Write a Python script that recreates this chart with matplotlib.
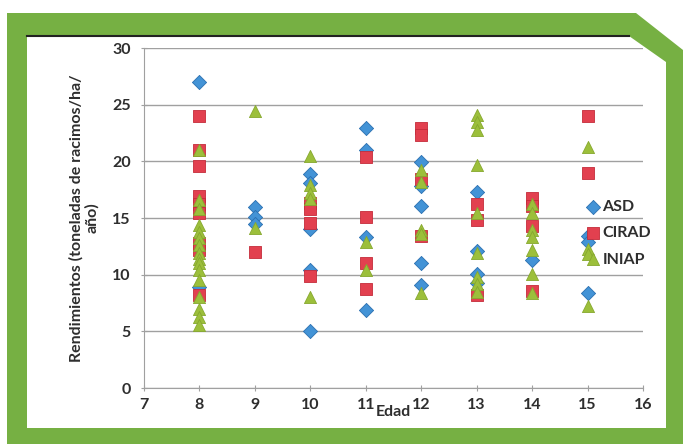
import matplotlib.pyplot as plt
from matplotlib.patches import Polygon

# edad (anos) y rendimiento (t racimos/ha/ano) por fuente
asd_edad = [8, 8, 9, 9, 9, 10, 10, 10, 10, 10, 11, 11, 11, 11,
            12, 12, 12, 12, 12, 13, 13, 13, 13, 14, 15, 15, 15]
asd_rend = [27.0, 8.9, 16.0, 15.1, 14.5, 18.9, 18.1, 14.0, 10.4, 5.0,
            22.9, 21.0, 13.3, 6.9, 19.9, 17.8, 16.1, 11.0, 9.1,
            17.3, 12.1, 10.1, 9.3, 11.3, 13.4, 12.9, 8.4]

cirad_edad = [8, 8, 8, 8, 8, 8, 8, 8, 8, 9, 10, 10, 10, 10,
              11, 11, 11, 11, 12, 12, 12, 12, 13, 13, 13,
              14, 14, 14, 14, 15, 15]
cirad_rend = [24.0, 21.0, 19.6, 16.9, 16.2, 15.4, 12.8, 12.2, 8.2, 12.0,
              16.3, 15.8, 14.6, 9.9, 20.4, 15.1, 11.0, 8.7,
              22.9, 22.3, 18.4, 13.4, 16.2, 14.8, 8.2,
              16.8, 16.1, 14.3, 8.6, 24.0, 19.0]

iniap_edad = [8] * 16 + [9, 9, 10, 10, 10, 10, 10, 11, 11,
              12, 12, 12, 12, 12, 13, 13, 13, 13, 13, 13, 13, 13, 13,
              14, 14, 14, 14, 14, 14, 14, 15, 15, 15, 15]
iniap_rend = [21.0, 16.6, 15.8, 14.4, 13.8, 13.2, 12.6, 11.9, 11.4, 11.0,
              10.4, 9.5, 8.0, 7.0, 6.3, 5.6,
              24.4, 14.1, 20.5, 17.9, 17.2, 16.7, 8.0, 12.9, 10.4,
              19.2, 18.2, 13.9, 13.6, 8.4,
              24.1, 23.5, 22.8, 19.7, 15.4, 11.9, 9.8, 9.2, 8.5,
              16.2, 15.4, 13.9, 13.3, 12.2, 10.1, 8.4,
              21.3, 12.3, 11.8, 7.2]

W, H = 683, 444
fig = plt.figure(figsize=(W / 100, H / 100), dpi=100)


def fpts(pts):
    return [(x / W, 1 - y / H) for x, y in pts]


# marco verde con esquina cortada
verde = '#76b043'
fig.patches.append(Polygon(fpts([(7, 13), (636, 13), (683, 50), (683, 444), (7, 444)]),
                           closed=True, facecolor=verde, edgecolor='none',
                           transform=fig.transFigure, zorder=0))
fig.patches.append(Polygon(fpts([(27, 36), (629, 36), (666, 62), (666, 428), (27, 428)]),
                           closed=True, facecolor='white', edgecolor='none',
                           transform=fig.transFigure, zorder=1))
fig.lines.append(plt.Line2D([27 / W, 629 / W], [1 - 36 / H, 1 - 36 / H], color='#222222',
                            lw=1.5, transform=fig.transFigure, zorder=2))

ax = fig.add_axes([144 / W, 1 - 388 / H, 499 / W, 340 / H])
ax.set_zorder(5)
ax.set_facecolor('none')

ax.scatter(asd_edad, asd_rend, marker='D', s=52, color='#4393d6',
           edgecolor='#2a6fb0', linewidth=0.6, label='ASD', zorder=3)
ax.scatter(cirad_edad, cirad_rend, marker='s', s=74, color='#e2404f',
           edgecolor='#c42c3a', linewidth=0.6, label='CIRAD', zorder=4)
ax.scatter(iniap_edad, iniap_rend, marker='^', s=76, color='#9cbf3b',
           edgecolor='#86a82e', linewidth=0.6, label='INIAP', zorder=5)

ax.set_xlim(7, 16)
ax.set_ylim(0, 30)
ax.set_xticks(range(7, 17))
ax.set_yticks(range(0, 31, 5))
ax.grid(axis='y', color='#a0a0a0', lw=1)
ax.set_axisbelow(True)
for s in ['top', 'right']:
    ax.spines[s].set_visible(False)
for s in ['left', 'bottom']:
    ax.spines[s].set_color('#a0a0a0')
ax.tick_params(colors='#a0a0a0', direction='inout', length=5, labelcolor='#2e2e2e',
               labelsize=11.5)
for lab in ax.get_xticklabels() + ax.get_yticklabels():
    lab.set_fontfamily('Lato')
    lab.set_fontweight('bold')
ax.tick_params(axis='x', pad=5)
ax.tick_params(axis='y', pad=7)

ax.set_xlabel('Edad', fontfamily='Lato', fontweight='bold', fontsize=11.5, color='#2e2e2e')
ax.xaxis.set_label_coords(0.5, -0.05)
ax.set_ylabel('Rendimientos (toneladas de racimos/ha/\naño)', fontfamily='Lato',
              fontweight='bold', fontsize=11.5, color='#2e2e2e', linespacing=1.05)
ax.yaxis.set_label_coords(-0.09, 0.5)

leg = ax.legend(loc='center left', bbox_to_anchor=(0.855, 0.455), frameon=False,
                handletextpad=0.1, labelspacing=0.75, handlelength=1.0,
                prop={'family': 'Lato', 'weight': 'bold', 'size': 11.5})
for t in leg.get_texts():
    t.set_color('#2e2e2e')

fig.savefig('out.png', dpi=100)
